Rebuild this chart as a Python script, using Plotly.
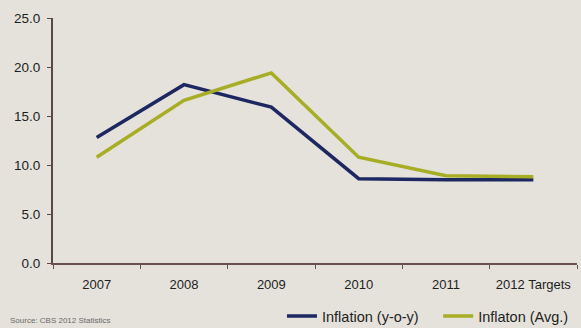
import plotly.graph_objects as go

categories = ["2007", "2008", "2009", "2010", "2011", "2012 Targets"]
inflation_yoy = [12.8, 18.2, 15.9, 8.6, 8.5, 8.5]
inflation_avg = [10.8, 16.6, 19.4, 10.8, 8.9, 8.8]
series_names = ["Inflation (y-o-y)", "Inflaton (Avg.)"]
y_ticks = [0, 5, 10, 15, 20, 25]

bg = "#e4e2da"
font_col = "#1e1e1e"

fig = go.Figure()
fig.add_trace(go.Scatter(x=categories, y=inflation_yoy, mode="lines", name=series_names[0],
                         line=dict(color="#1d2761", width=3.5), legend="legend"))
fig.add_trace(go.Scatter(x=categories, y=inflation_avg, mode="lines", name=series_names[1],
                         line=dict(color="#a7ad24", width=3.5), legend="legend2"))

leg_common = dict(orientation="h", xanchor="left", xref="paper",
                  y=0.036, yanchor="middle", yref="container",
                  font=dict(size=14.5, color=font_col), bgcolor="rgba(0,0,0,0)",
                  itemwidth=30)

fig.update_layout(
    width=581, height=328,
    margin=dict(l=53, r=4, t=18, b=65, autoexpand=False),
    paper_bgcolor=bg, plot_bgcolor=bg,
    font=dict(family="Liberation Sans, Arial, sans-serif", size=13, color=font_col),
    showlegend=True,
    legend=dict(x=0.437, **leg_common),
    legend2=dict(x=0.735, **leg_common),
)
fig.update_xaxes(
    type="category", range=[-0.5, 5.5], showgrid=False, zeroline=False,
    showline=True, linecolor="#6b4f4f", linewidth=2, automargin=False,
    ticks="outside", tickson="boundaries", ticklen=4, tickcolor="#6b4f4f",
    ticklabelstandoff=8, tickangle=0,
    tickfont=dict(size=13, color=font_col),
)
fig.update_yaxes(
    range=[0, 25], tickvals=y_ticks, tickformat=".1f", showgrid=False, zeroline=False,
    showline=True, linecolor="#5e4646", linewidth=2, automargin=False,
    ticks="outside", ticklen=4, tickcolor="#5e4646",
    ticklabelstandoff=4,
    tickfont=dict(size=13.5, color=font_col),
)
fig.add_annotation(text="Source: CBS 2012 Statistics", xref="paper", yref="paper",
                   x=-0.085, y=-0.262, xanchor="left", yanchor="bottom", showarrow=False,
                   font=dict(size=8, color="#6a6a6a"))

fig.write_html("out.html")
